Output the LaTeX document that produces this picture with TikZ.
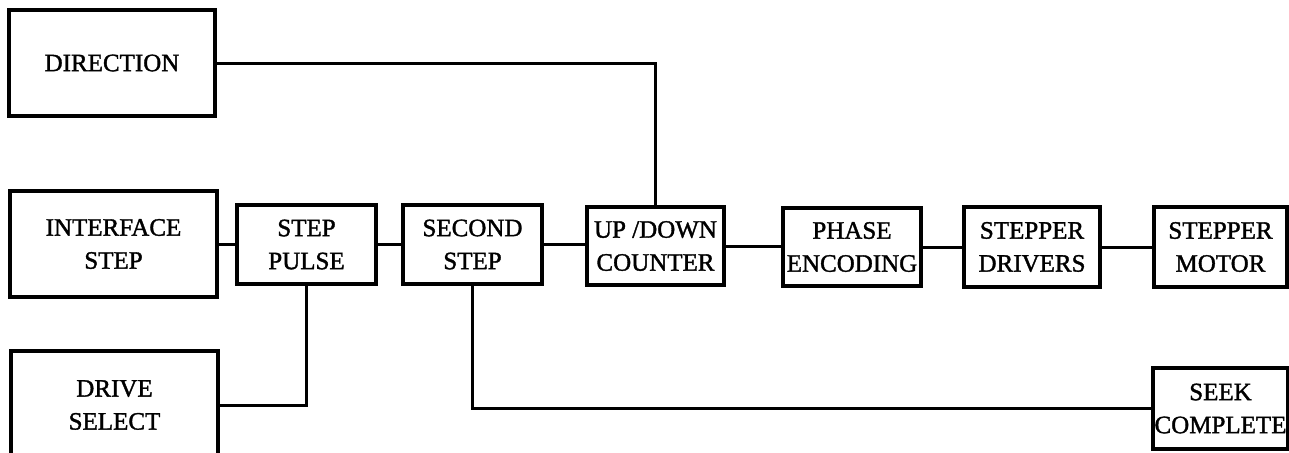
\documentclass[tikz,border=0pt]{standalone}
\usepackage{fontspec}
\setmainfont{Liberation Serif}
\newfontfamily\heavy{Liberation Serif}[FakeBold=1.4]
\begin{document}
\begin{tikzpicture}[x=0.5pt,y=-0.5pt,
  blk/.style={draw=black,line width=1.7pt,rectangle,align=center,inner sep=0pt,
    font=\heavy\fontsize{12.5pt}{16.5pt}\selectfont},
  wire/.style={draw=black,line width=1.5pt}]
\useasboundingbox[fill=white] (0,0) rectangle (1289,452);
% boxes
\node[blk,minimum width=103pt,minimum height=53pt] (dir) at (112,63) {DIRECTION};
\node[blk,minimum width=103.5pt,minimum height=53pt] (ifs) at (113.5,244) {INTERFACE\\STEP};
\node[blk,minimum width=69.5pt,minimum height=39.5pt] (sp) at (306.5,244.5) {STEP\\PULSE};
\node[blk,minimum width=103.5pt,minimum height=54pt] (drv) at (114.5,405) {DRIVE\\SELECT};
\node[blk,minimum width=69.5pt,minimum height=39.5pt] (ss) at (472.5,244.5) {SECOND\\STEP};
\node[blk,minimum width=68.5pt,minimum height=39pt] (ud) at (655.5,246) {UP /DOWN\\COUNTER};
\node[blk,minimum width=69pt,minimum height=39pt] (pe) at (852,247) {PHASE\\ENCODING};
\node[blk,minimum width=68pt,minimum height=40pt] (sd) at (1032,247) {STEPPER\\DRIVERS};
\node[blk,minimum width=66.5pt,minimum height=40pt] (sm) at (1220.5,247) {STEPPER\\MOTOR};
\node[blk,minimum width=67.5pt,minimum height=40.5pt] (sc) at (1220.5,408.5) {SEEK\\COMPLETE};
% connectors
\draw[wire] (dir.east) -| (ud.north);
\draw[wire] (ifs.east) -- (ifs.east -| sp.west);
\draw[wire] (sp.east) -- (sp.east -| ss.west);
\draw[wire] (ss.east) -- (ss.east -| ud.west);
\draw[wire] (ud.east) -- (ud.east -| pe.west);
\draw[wire] (pe.east) -- (pe.east -| sd.west);
\draw[wire] (sd.east) -- (sd.east -| sm.west);
\draw[wire] (sp.south) |- (drv.east);
\draw[wire] (ss.south) |- (sc.west);
\end{tikzpicture}
\end{document}
